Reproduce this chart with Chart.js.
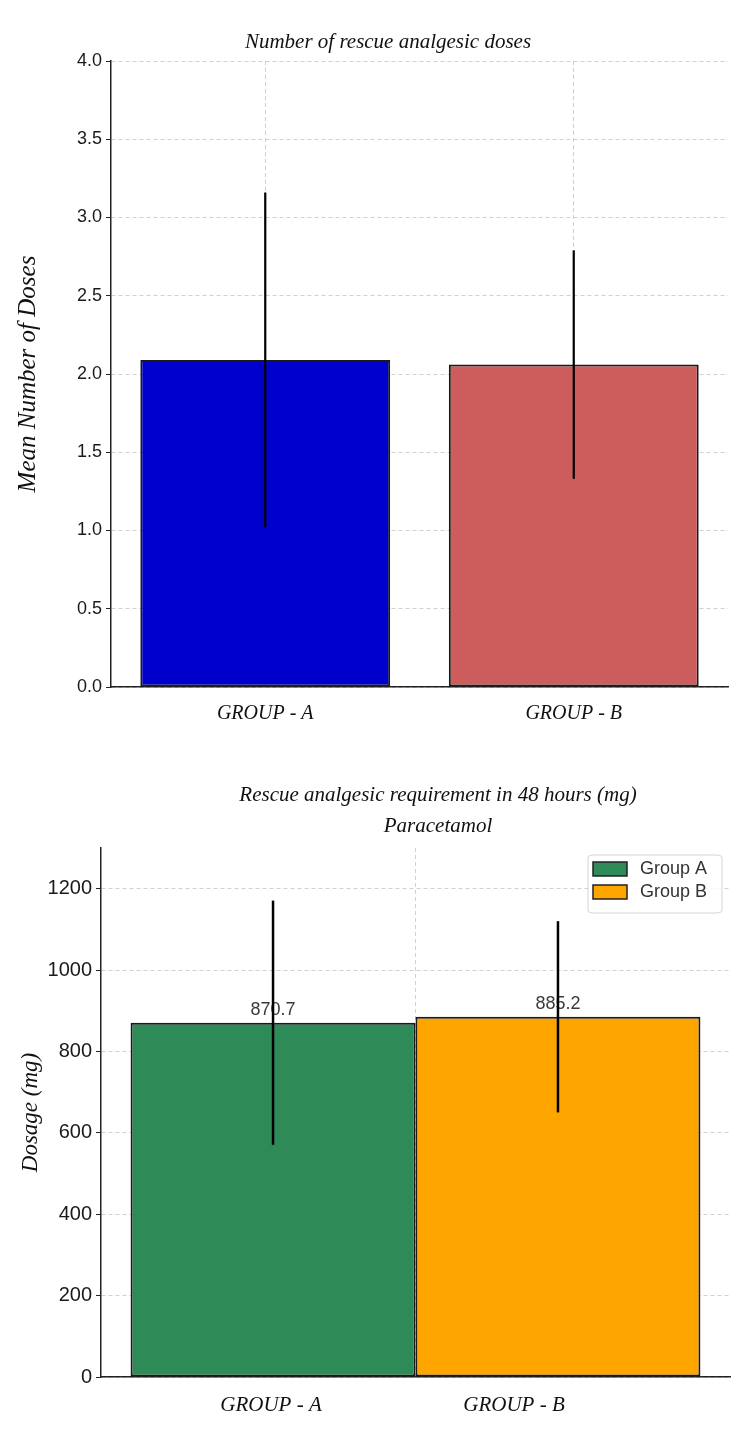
<!DOCTYPE html>
<html>
<head>
<meta charset="utf-8">
<script src="https://cdn.jsdelivr.net/npm/chart.js@4/dist/chart.umd.min.js"></script>
<style>
  body { margin: 0; background: #fff; }
  canvas { display: block; }
</style>
</head>
<body>
<canvas id="dosesChart" width="750" height="740"></canvas>
<canvas id="dosageChart" width="750" height="699"></canvas>
<script>
// top chart: number of rescue analgesic doses
const groups = ['GROUP - A', 'GROUP - B'];
const doseMeans = [2.09, 2.06];
const doseSD = [1.07, 0.73];
const doseColors = ['#0000cd', '#cd5c5c'];

// bottom chart: paracetamol requirement in 48 h (mg)
const seriesNames = ['Group A', 'Group B'];
const dosageMeans = [870.7, 885.2];
const dosageSD = [300, 235];
const dosageColors = ['#2e8b57', '#ffa500'];

const serif = "'Liberation Serif', 'DejaVu Serif', serif";
const sans = "'Liberation Sans', Arial, sans-serif";
const gridColor = 'rgba(170,170,170,0.55)';

// title text drawn at a fixed centre
const headline = {
  id: 'headline',
  afterDraw(chart, args, opts) {
    const ctx = chart.ctx;
    ctx.save();
    ctx.font = 'italic 21px ' + serif;
    ctx.fillStyle = '#111';
    ctx.textAlign = 'center';
    ctx.textBaseline = 'middle';
    opts.lines.forEach((t, i) => ctx.fillText(t, opts.x, opts.y + i * opts.gap));
    ctx.restore();
  }
};

// error bars (+ optional value labels) from dataset.errors
const errorBars = {
  id: 'errorBars',
  afterDraw(chart, args, opts) {
    const ctx = chart.ctx;
    const y = chart.scales.y;
    ctx.save();
    chart.data.datasets.forEach((ds, i) => {
      chart.getDatasetMeta(i).data.forEach((bar, j) => {
        const v = ds.data[j];
        const e = ds.errors[j];
        if (opts.valueLabels) {
          ctx.font = '18px ' + sans;
          ctx.fillStyle = '#3a3a3a';
          ctx.textAlign = 'center';
          ctx.textBaseline = 'middle';
          ctx.fillText(v.toFixed(1), bar.x, bar.y - 13);
        }
        ctx.strokeStyle = '#000';
        ctx.lineWidth = opts.width;
        ctx.beginPath();
        ctx.moveTo(bar.x, y.getPixelForValue(v + e));
        ctx.lineTo(bar.x, y.getPixelForValue(v - e));
        ctx.stroke();
      });
    });
    ctx.restore();
  }
};

// x labels under each bar of the single-category chart
const barLabels = {
  id: 'barLabels',
  afterDraw(chart, args, opts) {
    const ctx = chart.ctx;
    ctx.save();
    ctx.font = 'italic 21px ' + serif;
    ctx.fillStyle = '#111';
    ctx.textAlign = 'center';
    ctx.textBaseline = 'middle';
    opts.text.forEach((t, i) => {
      const bar = chart.getDatasetMeta(i).data[0];
      ctx.fillText(t, bar.x + opts.shift[i], chart.chartArea.bottom + 28);
    });
    ctx.restore();
  }
};

// boxed legend in the upper right of the plot
const boxLegend = {
  id: 'boxLegend',
  afterDraw(chart) {
    const ctx = chart.ctx;
    const area = chart.chartArea;
    const w = 134, h = 58;
    const x = area.right - 8 - w, y = area.top + 7;
    ctx.save();
    ctx.fillStyle = 'rgba(255,255,255,0.85)';
    ctx.strokeStyle = '#d6d6d6';
    ctx.lineWidth = 1;
    ctx.beginPath();
    ctx.roundRect(x, y, w, h, 4);
    ctx.fill();
    ctx.stroke();
    ctx.font = '18px ' + sans;
    ctx.textBaseline = 'middle';
    chart.data.datasets.forEach((ds, i) => {
      const sy = y + 7 + i * 23;
      ctx.fillStyle = ds.backgroundColor;
      ctx.fillRect(x + 5, sy, 34, 14);
      ctx.strokeStyle = '#222';
      ctx.lineWidth = 1.5;
      ctx.strokeRect(x + 5, sy, 34, 14);
      ctx.fillStyle = '#333';
      ctx.fillText(ds.label, x + 52, sy + 7);
    });
    ctx.restore();
  }
};

new Chart(document.getElementById('dosesChart'), {
  type: 'bar',
  data: {
    labels: groups,
    datasets: [{
      data: doseMeans,
      errors: doseSD,
      backgroundColor: doseColors,
      borderColor: '#1a1a1a',
      borderWidth: 2,
      borderSkipped: false,
      barPercentage: 0.81,
      categoryPercentage: 1
    }]
  },
  options: {
    responsive: false,
    animation: false,
    layout: { padding: { left: 0, right: 22, top: 61, bottom: 0 } },
    plugins: {
      legend: { display: false },
      tooltip: { enabled: false },
      headline: { lines: ['Number of rescue analgesic doses'], x: 388, y: 42, gap: 0 },
      errorBars: { width: 2.2, valueLabels: false }
    },
    scales: {
      x: {
        z: 1,
        grid: { offset: false, color: gridColor, drawTicks: false },
        border: { color: '#222', width: 1.5, dash: [4, 3] },
        ticks: { font: { family: serif, style: 'italic', size: 20 }, color: '#111', padding: 15 },
        afterFit(s) { s.height = 53; }
      },
      y: {
        z: 1,
        min: 0,
        max: 4,
        ticks: {
          stepSize: 0.5,
          callback: v => v.toFixed(1),
          font: { family: sans, size: 18 },
          color: '#1a1a1a',
          padding: 4
        },
        grid: { color: gridColor, tickColor: '#222', tickLength: 5 },
        border: { color: '#222', width: 1.5, dash: [4, 3] },
        title: {
          display: true,
          text: 'Mean Number of Doses',
          font: { family: serif, style: 'italic', size: 25 },
          color: '#111',
          padding: { top: 13, bottom: 0 }
        },
        afterFit(s) { s.width = 111; }
      }
    }
  },
  plugins: [headline, errorBars]
});

new Chart(document.getElementById('dosageChart'), {
  type: 'bar',
  data: {
    labels: [''],
    datasets: seriesNames.map((name, i) => ({
      label: name,
      data: [dosageMeans[i]],
      errors: [dosageSD[i]],
      backgroundColor: dosageColors[i],
      borderColor: '#1a1a1a',
      borderWidth: 2,
      borderSkipped: false,
      barPercentage: 1,
      categoryPercentage: 0.906
    }))
  },
  options: {
    responsive: false,
    animation: false,
    layout: { padding: { left: 0, right: 20, top: 108, bottom: 0 } },
    plugins: {
      legend: { display: false },
      tooltip: { enabled: false },
      headline: {
        lines: ['Rescue analgesic requirement in 48 hours (mg)', 'Paracetamol'],
        x: 438, y: 55, gap: 31
      },
      errorBars: { width: 2.5, valueLabels: true },
      barLabels: { text: groups, shift: [-2, -44] }
    },
    scales: {
      x: {
        z: 1,
        grid: { offset: false, color: gridColor, drawTicks: false },
        border: { color: '#222', width: 1.5, dash: [4, 3] },
        ticks: { display: false },
        afterFit(s) { s.height = 62; }
      },
      y: {
        z: 1,
        min: 0,
        max: 1300,
        ticks: {
          stepSize: 200,
          includeBounds: false,
          callback: v => String(v),
          font: { family: sans, size: 20 },
          color: '#1a1a1a',
          padding: 4
        },
        grid: { color: gridColor, tickColor: '#222', tickLength: 5 },
        border: { color: '#222', width: 1.5, dash: [4, 3] },
        title: {
          display: true,
          text: 'Dosage (mg)',
          font: { family: serif, style: 'italic', size: 23 },
          color: '#111',
          padding: { top: 17, bottom: 0 }
        },
        afterFit(s) { s.width = 101; }
      }
    }
  },
  plugins: [headline, errorBars, barLabels, boxLegend]
});
</script>
</body>
</html>
